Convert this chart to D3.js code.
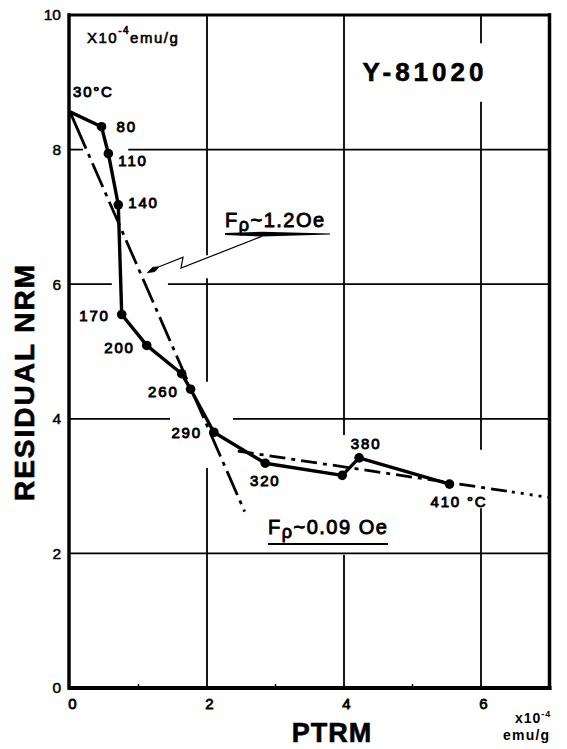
<!DOCTYPE html>
<html>
<head>
<meta charset="utf-8">
<script src="https://cdn.jsdelivr.net/npm/d3@7"></script>
<style>
  body { margin: 0; background: #fff; }
  svg { display: block; }
  text { font-family: "Liberation Sans", Arial, Helvetica, sans-serif; fill: #000; }
</style>
</head>
<body>
<svg id="chart" width="567" height="749"></svg>
<script>
// Thellier steps: heating temperature, PTRM gained and NRM remaining (x10^-4 emu/g)
const steps = ["30°C", "80", "110", "140", "170", "200", "", "260", "290", "320", "", "380", "410 °C"];
const ptrm  = [0, 0.46, 0.56, 0.705, 0.755, 1.12, 1.63, 1.76, 2.10, 2.85, 3.975, 4.22, 5.54];
const nrm   = [8.56, 8.34, 7.94, 7.18, 5.55, 5.09, 4.67, 4.44, 3.80, 3.34, 3.16, 3.42, 3.03];

// Two fitted slopes (end points in data units)
const fitHigh = [[0, 8.56], [2.55, 2.62]];          // Fp ~ 1.2 Oe
const fitLow  = [[2.45, 3.52], [6.45, 2.914]];      // Fp ~ 0.09 Oe
const fitLowTail = [[6.45, 2.914], [7.0, 2.83]];

const xTicks = [0, 2, 4, 6];
const yTicks = [0, 2, 4, 6, 8, 10];
const xMinor = [1, 3, 5];

// Grid lines with the breaks left around the lettering
const vGrid = [
  { at: 2, parts: [[0, 3.27], [4.55, 6.09], [6.43, 10]] },
  { at: 4, parts: [[0, 1.98], [3.76, 10]] },
  { at: 6, parts: [[0, 2.67], [3.54, 8.71], [9.58, 10]] }
];
const hGrid = [
  { at: 2, parts: [[0, 7]] },
  { at: 4, parts: [[0, 1.46], [2.38, 7]] },
  { at: 6, parts: [[0, 0.61], [1.43, 7]] },
  { at: 8, parts: [[0, 0.19], [0.85, 7]] }
];

// Leader from the 1.2 Oe label to its line (data units)
const leader = [[2.80, 6.71], [1.62, 6.24], [1.65, 6.40], [1.30, 6.26]];
const leaderTip = [1.13, 6.17];

const svg = d3.select("#chart");
const x = d3.scaleLinear().domain([0, 7]).range([70, 549.5]);
const y = d3.scaleLinear().domain([0, 10]).range([688, 15]);

// grid
const g = svg.append("g").attr("stroke", "#000").attr("stroke-width", 1.8);
vGrid.forEach(v => v.parts.forEach(p =>
  g.append("line").attr("x1", x(v.at)).attr("x2", x(v.at)).attr("y1", y(p[0])).attr("y2", y(p[1]))));
hGrid.forEach(h => h.parts.forEach(p =>
  g.append("line").attr("y1", y(h.at)).attr("y2", y(h.at)).attr("x1", x(p[0])).attr("x2", x(p[1]))));

// frame
const fr = svg.append("g").attr("stroke", "#000").attr("stroke-linecap", "square");
fr.append("line").attr("x1", x(0)).attr("x2", x(7)).attr("y1", y(10)).attr("y2", y(10)).attr("stroke-width", 3);
fr.append("line").attr("x1", x(0)).attr("x2", x(7)).attr("y1", y(0)).attr("y2", y(0)).attr("stroke-width", 4);
fr.append("line").attr("x1", x(0) - 1).attr("x2", x(0) - 1).attr("y1", y(10)).attr("y2", y(0)).attr("stroke-width", 3.5);
fr.append("line").attr("x1", x(7)).attr("x2", x(7)).attr("y1", y(10)).attr("y2", y(0)).attr("stroke-width", 3.5);

// axes (labels only, the frame carries the lines)
const xAxis = svg.append("g").attr("transform", `translate(0,${y(0)})`)
  .call(d3.axisBottom(x).tickValues(xTicks).tickSize(0).tickPadding(10).tickFormat(d3.format("d")));
xAxis.select(".domain").remove();
xAxis.selectAll("text").style("font-size", "15px").style("font-family", "Liberation Sans, Arial, sans-serif")
  .attr("stroke", "#000").attr("stroke-width", 0.8).attr("dx", 2);

const yAxis = svg.append("g").attr("transform", `translate(${x(0)},0)`)
  .call(d3.axisLeft(y).tickValues(yTicks).tickSize(0).tickPadding(9).tickFormat(d3.format("d")));
yAxis.select(".domain").remove();
yAxis.selectAll("text").style("font-size", "15.5px").style("font-family", "Liberation Sans, Arial, sans-serif")
  .attr("stroke", "#000").attr("stroke-width", 0.5);

// minor ticks on the PTRM axis
svg.append("g").selectAll("line").data(xMinor).join("line")
  .attr("x1", d => x(d)).attr("x2", d => x(d))
  .attr("y1", y(0)).attr("y2", y(0) - 4)
  .attr("stroke", "#000").attr("stroke-width", 1.5);

// fitted lines
const line = d3.line().x(d => x(d[0])).y(d => y(d[1]));
svg.append("path").attr("d", line(fitHigh)).attr("fill", "none").attr("stroke", "#000")
  .attr("stroke-width", 2.8).attr("stroke-dasharray", "40,6,4,6,26,6,4,6,26,6,4,6,26,6,4,6,26,6,4,6,26,6,4,6,26,6,4,6,26,6,4,6,26,6,4,6,26,6,4,6");
svg.append("path").attr("d", line(fitLow)).attr("fill", "none").attr("stroke", "#000")
  .attr("stroke-width", 2.8).attr("stroke-dasharray", "16,6,4,6");
svg.append("path").attr("d", line(fitLowTail)).attr("fill", "none").attr("stroke", "#000")
  .attr("stroke-width", 2.8).attr("stroke-dasharray", "3,6");

// measured curve
svg.append("path").attr("d", line(ptrm.map((p, i) => [p, nrm[i]])))
  .attr("fill", "none").attr("stroke", "#000").attr("stroke-width", 3.4).attr("stroke-linejoin", "round");
svg.append("g").selectAll("circle").data(ptrm.slice(1)).join("circle")
  .attr("cx", d => x(d)).attr("cy", (d, i) => y(nrm[i + 1])).attr("r", 4.8).attr("fill", "#000");

// temperature labels
const labelPos = [
  [3, -15, "start"], [15, 5, "start"], [10, 12, "start"], [10, 3, "start"],
  [-12, 7, "end"], [-12, 8, "end"], null, [-12, 8, "end"], [-12, 6, "end"],
  [0, 23, "middle"], null, [7, -9, "middle"], [-19, 23, "start"]
];
steps.forEach((s, i) => {
  if (!s) return;
  const p = labelPos[i];
  svg.append("text").attr("x", x(ptrm[i]) + p[0]).attr("y", y(nrm[i]) + p[1])
    .attr("text-anchor", p[2]).style("font-size", "15px").style("letter-spacing", "1.8px")
    .attr("stroke", "#000").attr("stroke-width", 0.9).text(s);
});

// sample name
svg.append("text").attr("x", 425).attr("y", 81).attr("text-anchor", "middle")
  .style("font-size", "26px").style("font-weight", "bold").style("letter-spacing", "4px")
  .attr("stroke", "#000").attr("stroke-width", 0.6).text("Y-81020");

// unit note inside the frame
const u1 = svg.append("text").attr("x", 87).attr("y", 43).style("font-size", "15px").style("letter-spacing", "1.5px")
  .attr("stroke", "#000").attr("stroke-width", 0.6);
u1.append("tspan").text("X10");
u1.append("tspan").attr("dy", -9).style("font-size", "10px").text("-4");
u1.append("tspan").attr("dy", 9).text("emu/g");

// unit note under the PTRM axis
const u2 = svg.append("text").attr("x", 515).attr("y", 723).style("font-size", "14px").style("font-weight", "bold").style("letter-spacing", "1px");
u2.append("tspan").text("x10");
u2.append("tspan").attr("dy", -6).style("font-size", "9px").text("-4");
svg.append("text").attr("x", 503).attr("y", 740).style("font-size", "14px").style("font-weight", "bold").style("letter-spacing", "1.2px").text("emu/g");

// slope annotations
function fpLabel(tx, ty, val) {
  const t = svg.append("text").attr("x", tx).attr("y", ty).style("font-size", "20px")
    .style("letter-spacing", "1.5px").attr("stroke", "#000").attr("stroke-width", 0.9);
  t.append("tspan").text("F");
  t.append("tspan").attr("dy", 4).style("font-size", "18px").text("ρ");
  t.append("tspan").attr("dy", -4).text(val);
  return t;
}
fpLabel(225, 227, "~1.2Oe");
svg.append("path")
  .attr("d", "M225,233 L262,231.8 L330,233.6 L330,234.4 L262,236.6 L225,235 Z")
  .attr("fill", "#000");
fpLabel(268, 534, "~0.09 Oe");
svg.append("line").attr("x1", 268).attr("x2", 388).attr("y1", 544).attr("y2", 544)
  .attr("stroke", "#000").attr("stroke-width", 2);

svg.append("path").attr("d", line(leader)).attr("fill", "none").attr("stroke", "#000").attr("stroke-width", 1.2);
{
  const a = leader[leader.length - 1];
  const ax = x(a[0]), ay = y(a[1]), tx = x(leaderTip[0]), ty = y(leaderTip[1]);
  const dx = tx - ax, dy = ty - ay, len = Math.hypot(dx, dy), nx = -dy / len * 2.4, ny = dx / len * 2.4;
  svg.append("path")
    .attr("d", `M${ax},${ay} L${ax + dx * 0.45 + nx},${ay + dy * 0.45 + ny} L${tx},${ty} L${ax + dx * 0.45 - nx},${ay + dy * 0.45 - ny} Z`)
    .attr("fill", "#000").attr("stroke", "#000").attr("stroke-width", 0.8);
}

// axis titles
svg.append("text").attr("x", 332).attr("y", 742).attr("text-anchor", "middle")
  .style("font-size", "27px").style("font-weight", "bold").style("letter-spacing", "1px")
  .attr("stroke", "#000").attr("stroke-width", 0.6).text("PTRM");
svg.append("text").attr("transform", "translate(34,382) rotate(-90)").attr("text-anchor", "middle")
  .style("font-size", "28px").style("font-weight", "bold").style("letter-spacing", "2px")
  .attr("stroke", "#000").attr("stroke-width", 0.6).text("RESIDUAL NRM");
</script>
</body>
</html>
